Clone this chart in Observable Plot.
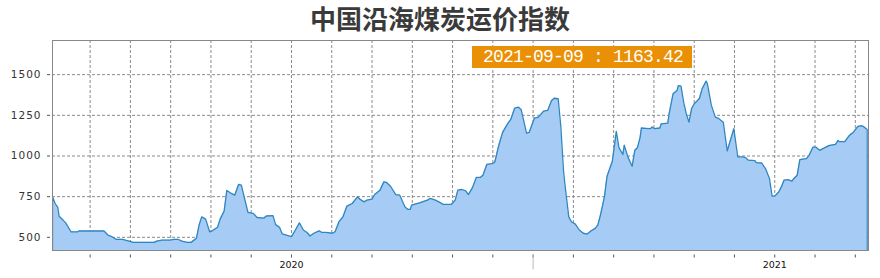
<!DOCTYPE html>
<html><head><meta charset="utf-8">
<script src="https://cdn.jsdelivr.net/npm/d3@7"></script>
<script src="https://cdn.jsdelivr.net/npm/@observablehq/plot@0.6"></script>
<style>
body{margin:0;background:#fff;}
#wrap{position:relative;width:880px;height:278px;overflow:hidden;}
#title{height:36px;line-height:36px;text-align:center;font-family:"Noto Sans CJK SC";font-size:26px;font-weight:bold;color:#3a3a3a;}
#tip{position:absolute;left:472px;top:46px;width:220px;height:22px;background:#EA9006;color:#fff;font-family:"Liberation Mono";font-size:18px;line-height:22px;letter-spacing:-0.8px;padding-left:11px;box-sizing:border-box;white-space:pre;}
g[aria-label="y-axis tick label"]{letter-spacing:1px;}
</style></head>
<body><div id="wrap"><div id="title">中国沿海煤炭运价指数</div><div id="chart"></div><div id="tip"></div></div>
<script>
const dates = ["2019-07-04","2019-07-06","2019-07-08","2019-07-09","2019-07-12","2019-07-14","2019-07-18","2019-07-23","2019-07-24","2019-08-12","2019-08-15","2019-08-18","2019-08-21","2019-08-26","2019-08-31","2019-09-03","2019-09-19","2019-09-21","2019-09-25","2019-10-01","2019-10-04","2019-10-07","2019-10-10","2019-10-14","2019-10-17","2019-10-21","2019-10-23","2019-10-25","2019-10-28","2019-10-31","2019-11-02","2019-11-06","2019-11-08","2019-11-11","2019-11-13","2019-11-16","2019-11-19","2019-11-22","2019-11-24","2019-11-29","2019-12-03","2019-12-06","2019-12-11","2019-12-13","2019-12-18","2019-12-20","2019-12-23","2019-12-25","2020-01-01","2020-01-04","2020-01-07","2020-01-10","2020-01-13","2020-01-15","2020-01-18","2020-01-22","2020-01-24","2020-01-27","2020-02-01","2020-02-03","2020-02-06","2020-02-09","2020-02-12","2020-02-16","2020-02-20","2020-02-22","2020-02-25","2020-02-27","2020-03-02","2020-03-04","2020-03-08","2020-03-11","2020-03-13","2020-03-16","2020-03-20","2020-03-23","2020-03-27","2020-03-29","2020-03-31","2020-04-01","2020-04-07","2020-04-13","2020-04-15","2020-04-19","2020-04-23","2020-04-25","2020-05-01","2020-05-04","2020-05-06","2020-05-09","2020-05-12","2020-05-14","2020-05-17","2020-05-20","2020-05-23","2020-05-25","2020-05-28","2020-06-01","2020-06-03","2020-06-06","2020-06-09","2020-06-13","2020-06-15","2020-06-18","2020-06-21","2020-06-23","2020-06-27","2020-06-29","2020-07-03","2020-07-06","2020-07-10","2020-07-13","2020-07-16","2020-07-18","2020-07-21","2020-07-23","2020-07-25","2020-07-26","2020-07-29","2020-07-31","2020-08-03","2020-08-06","2020-08-09","2020-08-12","2020-08-15","2020-08-18","2020-08-20","2020-08-22","2020-08-25","2020-08-27","2020-08-31","2020-09-03","2020-09-05","2020-09-08","2020-09-09","2020-09-12","2020-09-15","2020-09-17","2020-09-19","2020-09-21","2020-09-22","2020-09-25","2020-09-29","2020-09-30","2020-10-02","2020-10-06","2020-10-07","2020-10-12","2020-10-13","2020-10-16","2020-10-19","2020-10-20","2020-10-22","2020-10-24","2020-10-26","2020-10-28","2020-10-30","2020-11-01","2020-11-03","2020-11-05","2020-11-07","2020-11-10","2020-11-11","2020-11-14","2020-11-17","2020-11-19","2020-11-23","2020-11-26","2020-12-01","2020-12-04","2020-12-08","2020-12-10","2020-12-12","2020-12-17","2020-12-18","2020-12-22","2020-12-25","2020-12-28","2020-12-30","2021-01-01","2021-01-04","2021-01-06","2021-01-08","2021-01-11","2021-01-14","2021-01-15","2021-01-18","2021-01-20","2021-01-25","2021-01-27","2021-01-30","2021-02-01","2021-02-04","2021-02-08","2021-02-11","2021-02-16","2021-02-18","2021-02-19","2021-02-23","2021-02-26","2021-02-28","2021-03-01","2021-03-05","2021-03-08","2021-03-09","2021-03-12"];
const values = [749,708,684,630,606,589,534,534,539,539,514,504,488,488,477,469,469,477,483,483,488,488,477,469,469,494,575,626,612,534,540,562,612,662,788,772,759,826,821,654,647,622,618,631,633,578,561,521,504,545,589,545,528,508,525,540,530,530,525,534,596,626,692,708,749,733,718,728,735,763,790,841,837,814,763,759,687,672,672,698,712,729,739,729,712,702,702,729,790,794,786,763,804,868,868,882,949,953,963,1066,1147,1202,1223,1294,1300,1284,1141,1145,1233,1239,1276,1280,1341,1355,1352,1178,912,831,626,596,581,545,525,520,540,555,575,637,749,876,968,1151,1051,1009,1066,990,937,1035,1051,1113,1172,1170,1168,1178,1168,1172,1198,1202,1260,1382,1402,1433,1429,1331,1260,1208,1290,1321,1337,1355,1413,1460,1444,1311,1239,1233,1208,1031,1168,994,994,990,974,972,959,957,923,861,753,753,779,810,851,855,845,857,882,978,984,1004,1055,1055,1035,1051,1064,1072,1096,1088,1088,1121,1137,1141,1182,1186,1182,1163.42];
const yTicks = [500, 750, 1000, 1250, 1500];
const xTicks = ["2019-08-01T12:00Z","2019-09-01T00:00Z","2019-10-01T12:00Z","2019-11-01T00:00Z","2019-12-01T12:00Z","2020-01-01T00:00Z","2020-01-31T12:00Z","2020-03-02T00:00Z","2020-04-01T12:00Z","2020-05-02T00:00Z","2020-06-01T12:00Z","2020-07-02T00:00Z","2020-08-01T12:00Z","2020-09-01T00:00Z","2020-10-01T12:00Z","2020-11-01T00:00Z","2020-12-01T12:00Z","2021-01-01T00:00Z","2021-01-31T12:00Z","2021-03-03T00:00Z"];
const xTickLabels = {"2020-01-01T00:00Z": "2020", "2021-01-01T00:00Z": "2021"};
const midTick = "2020-07-02T00:00Z";
const xDomain = ["2019-07-04", "2021-03-13"];
const yDomain = [419, 1710];
const tipText = "2021-09-09 : 1163.42";
const titleText = "中国沿海煤炭运价指数";

document.getElementById("title").textContent = titleText;
document.getElementById("tip").textContent = tipText;

const data = dates.map((d, i) => ({date: new Date(d), value: values[i]}));
const yMin = yDomain[0];
const outline = [{date: data[0].date, value: yMin}, ...data, {date: data[data.length - 1].date, value: yMin}];
const tickDates = xTicks.map(s => new Date(s));
const labelOf = new Map(xTicks.map(s => [+new Date(s), xTickLabels[s] || ""]));
const grid = {stroke: "#8a8a8a", strokeOpacity: 1, strokeDasharray: "3,2", strokeWidth: 1};

const chart = Plot.plot({
  width: 880,
  height: 242,
  marginTop: 4,
  marginBottom: 28,
  marginLeft: 52,
  marginRight: 12,
  style: {background: "#fff", overflow: "visible"},
  x: {type: "utc", domain: xDomain.map(s => new Date(s))},
  y: {domain: yDomain},
  marks: [
    Plot.ruleY(yTicks, grid),
    Plot.ruleX(tickDates, grid),
    Plot.areaY(data, {x: "date", y1: () => yMin, y2: "value", fill: "#a6cbf4", clip: true}),
    Plot.line(outline, {x: "date", y: "value", stroke: "#2f87c0", strokeWidth: 1.3, clip: true}),
    Plot.frame({stroke: "#888", strokeWidth: 1}),
    Plot.axisY({ticks: yTicks, label: null, tickSize: 3, dx: -2, tickPadding: 6, stroke: "#555", fill: "#333", fontFamily: "DejaVu Sans", fontSize: 10.5, tickFormat: d => String(d)}),
    Plot.axisX({ticks: tickDates, label: null, tickSize: 3, dy: 4.5, tickPadding: 3, stroke: "#555", fill: "#111", fontFamily: "DejaVu Sans", fontSize: 9.5, tickFormat: d => labelOf.get(+d) || ""}),
    Plot.axisX({ticks: [new Date(midTick)], label: null, tickSize: 15, dy: 4.5, stroke: "#bbb", tickFormat: () => ""})
  ]
});
document.getElementById("chart").appendChild(chart);
</script>
</body></html>
